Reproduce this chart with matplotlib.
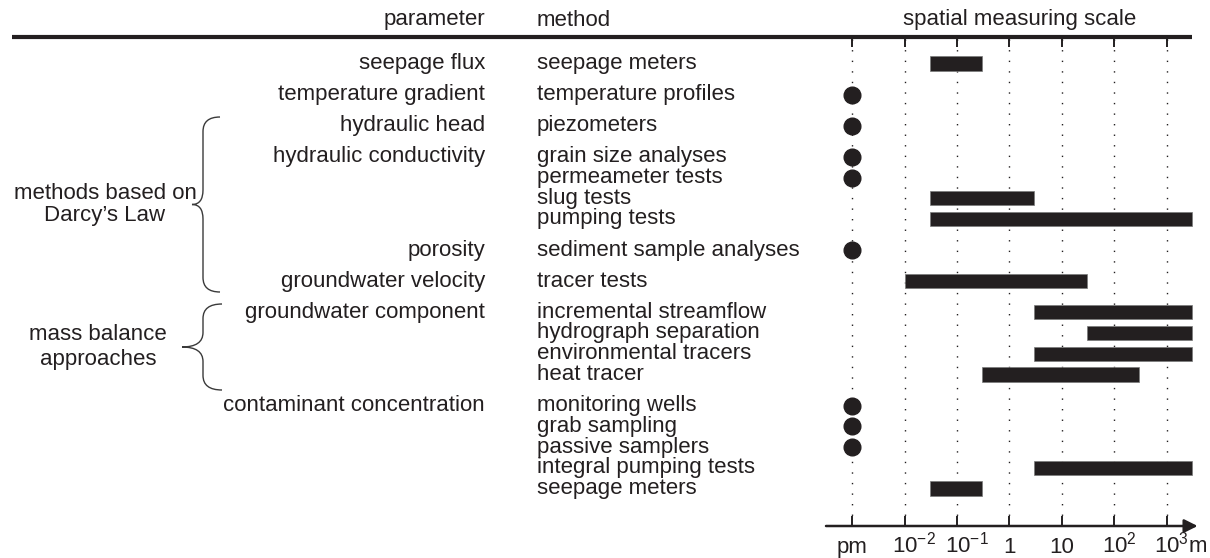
import matplotlib
matplotlib.use("Agg")
import matplotlib.pyplot as plt
from matplotlib import transforms as mtrans
from matplotlib.path import Path
from matplotlib.patches import PathPatch
from matplotlib.lines import Line2D

plt.rcParams['font.family'] = ['Liberation Sans', 'DejaVu Sans']
plt.rcParams['mathtext.fontset'] = 'custom'
plt.rcParams['mathtext.rm'] = 'Liberation Sans'
plt.rcParams['mathtext.it'] = 'Liberation Sans:italic'
plt.rcParams['mathtext.bf'] = 'Liberation Sans:bold'

# ---------------- data ----------------
parameters = ["seepage flux", "temperature gradient", "hydraulic head",
              "hydraulic conductivity", "porosity", "groundwater velocity",
              "groundwater component", "contaminant concentration"]
group_sizes = [1, 1, 1, 4, 1, 1, 4, 5]
methods = ["seepage meters", "temperature profiles", "piezometers",
           "grain size analyses", "permeameter tests", "slug tests", "pumping tests",
           "sediment sample analyses", "tracer tests",
           "incremental streamflow", "hydrograph separation", "environmental tracers",
           "heat tracer",
           "monitoring wells", "grab sampling", "passive samplers",
           "integral pumping tests", "seepage meters"]
# spatial measuring scale in m (None = point measurement "pm")
scale_min = [0.03, None, None, None, None, 0.03, 0.03, None, 0.01,
             3, 30, 3, 0.3, None, None, None, 3, 0.03]
scale_max = [0.3, None, None, None, None, 3, 3000, None, 30,
             3000, 3000, 3000, 300, None, None, None, 3000, 0.3]
PM = 1e-3  # axis position used for "point measurement"
tick_values = [PM, 1e-2, 1e-1, 1, 10, 100, 1000]
tick_labels = ["pm", r"$10^{-2}$", r"$10^{-1}$", "1", "10", r"$10^{2}$", r"$10^{3}$m"]
brace_labels = [("methods based on", "Darcy\u2019s Law"), ("mass balance", "approaches")]

# ---------------- layout ----------------
DARK = "#231f20"
W, H = 1210, 558
FS = 16
Y0, U = 63.5, 20.73          # pixel of first row, pixels per row
TOP_PX, BOT_PX = 37, 526
AX_L, AX_R = 826, 1195.4

def row_of(px):
    return (px - Y0) / U

rows = []
y = 0.0
for gi, n in enumerate(group_sizes):
    if gi > 0:
        y += 1.5
    for k in range(n):
        if k > 0:
            y += 1
        rows.append(y)

fig = plt.figure(figsize=(W / 100, H / 100), dpi=100)
ax = fig.add_axes([AX_L / W, 1 - BOT_PX / H, (AX_R - AX_L) / W, (BOT_PX - TOP_PX) / H])
ax.set_xscale('log')
ax.set_xlim(10 ** -3.5, 10 ** 3.55)
ax.set_ylim(row_of(BOT_PX), row_of(TOP_PX))
for s in ax.spines.values():
    s.set_visible(False)
ax.set_yticks([])
ax.set_xticks(tick_values)
ax.set_xticklabels([])
ax.xaxis.set_minor_locator(matplotlib.ticker.NullLocator())
ax.tick_params(axis='x', which='major', direction='in', length=7, width=1.4,
               color=DARK, top=True, bottom=True)
ax.xaxis.grid(True, which='major', linestyle=(0, (1, 6.6)), linewidth=1.0, color=DARK)
ax.set_axisbelow(True)

# bars and dots
for i in range(len(methods)):
    if scale_min[i] is None:
        ax.plot([PM], [rows[i]], 'o', ms=12, color=DARK, clip_on=False, zorder=3)
    else:
        ax.barh(rows[i], scale_max[i] - scale_min[i], left=scale_min[i], height=0.69,
                color=DARK, edgecolor="#7a7a7a", linewidth=0.5, zorder=3)

# bottom axis arrow
ax.annotate('', xy=(1.006, 0), xycoords='axes fraction', xytext=(0, 0),
            textcoords='axes fraction',
            arrowprops=dict(arrowstyle='-|>', lw=1.8, color=DARK, mutation_scale=20,
                            shrinkA=0, shrinkB=0), annotation_clip=False)

# tick labels
base = mtrans.blended_transform_factory(ax.transData, ax.transAxes)
for v, lab in zip(tick_values, tick_labels):
    if lab.startswith("$10"):
        off = mtrans.ScaledTranslation(-12.4 / 100, -27 / 100, fig.dpi_scale_trans)
        ax.text(v, 0, lab, transform=base + off, ha='left', va='baseline',
                fontsize=FS, color=DARK)
    else:
        off = mtrans.ScaledTranslation(0, -27 / 100, fig.dpi_scale_trans)
        ax.text(v, 0, lab, transform=base + off, ha='center', va='baseline',
                fontsize=FS, color=DARK)

# top thick rule
rule_tr = mtrans.blended_transform_factory(fig.transFigure, ax.transAxes)
fig.add_artist(Line2D([12 / W, 1192 / W], [1, 1], transform=rule_tr, lw=3.0,
                      color=DARK, clip_on=False, solid_capstyle='butt'))

# text columns
tr = mtrans.blended_transform_factory(fig.transFigure, ax.transData)
hdr_y = row_of(20)
fig.text(485 / W, hdr_y, "parameter", transform=tr, ha='right', va='center',
         fontsize=FS, color=DARK)
fig.text(537 / W, hdr_y, "method", transform=tr, ha='left', va='center',
         fontsize=FS, color=DARK)
fig.text(1020 / W, hdr_y, "spatial measuring scale", transform=tr, ha='center',
         va='center', fontsize=FS, color=DARK)

start = 0
for p, n in zip(parameters, group_sizes):
    fig.text(485 / W, rows[start], p, transform=tr, ha='right', va='center',
             fontsize=FS, color=DARK)
    start += n
for m, r in zip(methods, rows):
    fig.text(537 / W, r, m, transform=tr, ha='left', va='center',
             fontsize=FS, color=DARK)

# braces
def brace(top, bottom, xe, xv, xt, rad=0.7):
    mid = (top + bottom) / 2
    xe, xv, xt = xe / W, xv / W, xt / W
    verts = [(xe, top), (xv, top), (xv, top + rad), (xv, mid - rad), (xv, mid),
             (xt, mid), (xv, mid), (xv, mid + rad), (xv, bottom - rad), (xv, bottom),
             (xe, bottom)]
    codes = [Path.MOVETO, Path.CURVE3, Path.CURVE3, Path.LINETO, Path.CURVE3,
             Path.CURVE3, Path.CURVE3, Path.CURVE3, Path.LINETO, Path.CURVE3,
             Path.CURVE3]
    fig.add_artist(PathPatch(Path(verts, codes), transform=tr, fill=False,
                             lw=1.0, edgecolor="#3a3a3a", clip_on=False))
    return mid

specs = [(row_of(117), row_of(292), 220, 203, 192, 105, 0.55),
         (row_of(304), row_of(390), 222, 203, 182, 98, 0.6)]
for (l1, l2), (t, b, xe, xv, xt, xc, dy) in zip(brace_labels, specs):
    mid = brace(t, b, xe, xv, xt)
    fig.text(xc / W, mid - dy, l1, transform=tr, ha='center', va='center',
             fontsize=FS, color=DARK)
    fig.text(xc / W, mid + dy, l2, transform=tr, ha='center', va='center',
             fontsize=FS, color=DARK)

fig.savefig("out.png", dpi=100)
